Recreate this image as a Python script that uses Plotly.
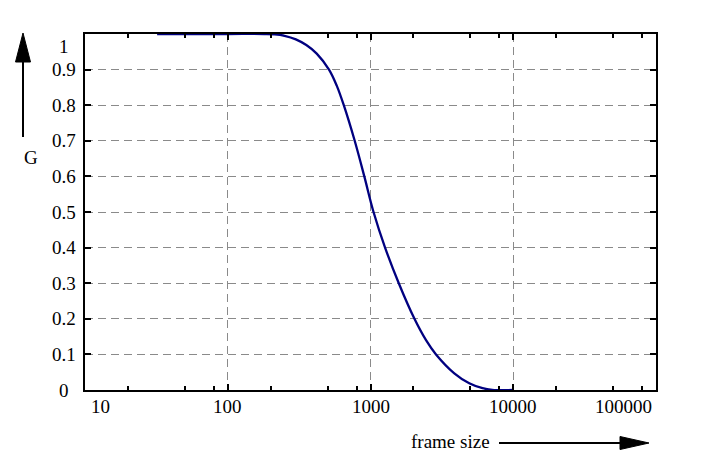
import numpy as np
import plotly.graph_objects as go

# --- data ---
frame_size = [32, 100, 180, 213, 250, 300, 355, 420, 512, 580, 650, 775, 905,
              1050, 1265, 1578, 2032, 2449, 2877, 3864, 4918, 6095, 7130, 10000]
g_values = [1.0, 1.0, 1.0, 0.999, 0.995, 0.985, 0.969, 0.945, 0.9, 0.855, 0.8,
            0.7, 0.6, 0.5, 0.4, 0.3, 0.2, 0.14, 0.1, 0.047, 0.019, 0.005, 0.0005, 0.0]

x_ticks = [10, 100, 1000, 10000, 100000]
x_ticklabels = ["10", "100", "1000", "10000", "100000"]
x_minor = [20, 50, 80, 200, 500, 800, 2000, 5000, 8000,
           20000, 50000, 80000]
y_ticks = [0, 0.1, 0.2, 0.3, 0.4, 0.5, 0.6, 0.7, 0.8, 0.9, 1]
y_ticklabels = ["0", "0.1", "0.2", "0.3", "0.4", "0.5", "0.6", "0.7", "0.8", "0.9", "1"]

# --- layout geometry (screen pixels; page body adds an 8px offset) ---
W, H = 705, 461
OFF = 8
L, R, T, B = 85, 656, 34, 390
FONT = dict(family="Liberation Serif", size=19, color="black")


def px(xp):
    return (xp - L) / (R - L)


def py(yp):
    return (B - yp) / (B - T)


fig = go.Figure()
fig.add_trace(go.Scatter(
    x=frame_size, y=g_values, mode="lines",
    line=dict(color="#000080", width=2.3, shape="spline", smoothing=1),
    hoverinfo="skip", showlegend=False,
))

annotations = []
for i, (v, t) in enumerate(zip(x_ticks, x_ticklabels)):
    anchor, shift = "center", 0
    if i == 0:
        anchor, shift = "left", 4
    elif i == len(x_ticks) - 1:
        anchor, shift = "right", -2
    annotations.append(dict(
        x=np.log10(v), y=0, xref="x", yref="paper", text=t, showarrow=False,
        xanchor=anchor, yanchor="middle", xshift=shift, yshift=-16, font=FONT,
    ))
for i, (v, t) in enumerate(zip(y_ticks, y_ticklabels)):
    annotations.append(dict(
        x=0, y=v, xref="paper", yref="y", text=t, showarrow=False,
        xanchor="center", yanchor="top" if i == len(y_ticks) - 1 else "middle",
        xshift=-21, font=FONT,
    ))

# axis names
annotations.append(dict(x=px(22), y=py(157), xref="paper", yref="paper", text="G",
                        showarrow=False, font=FONT))
annotations.append(dict(x=px(450), y=0, xref="paper", yref="paper",
                        text="frame size", showarrow=False, font=FONT,
                        yanchor="middle", yshift=-(441 - B)))

shapes = [
    # vertical arrow for G
    dict(type="line", xref="paper", yref="paper", x0=px(23), x1=px(23),
         y0=py(137), y1=py(55), line=dict(color="black", width=2)),
    dict(type="path", xref="paper", yref="paper",
         path=f"M {px(23)},{py(33)} L {px(15.5)},{py(62)} L {px(30.5)},{py(62)} Z",
         fillcolor="black", line=dict(color="black", width=1)),
    # horizontal arrow for frame size
    dict(type="line", xref="paper", yref="paper", x0=px(499), x1=px(625),
         y0=py(443), y1=py(443), line=dict(color="black", width=2)),
    dict(type="path", xref="paper", yref="paper",
         path=f"M {px(649)},{py(443)} L {px(620)},{py(436.5)} L {px(620)},{py(449.5)} Z",
         fillcolor="black", line=dict(color="black", width=1)),
]

axis_common = dict(
    showline=True, linecolor="black", linewidth=2, mirror="allticks",
    ticks="inside", ticklen=6, tickwidth=2, tickcolor="black",
    showgrid=True, gridcolor="#8a8a8a", gridwidth=1, griddash="8px,5px",
    showticklabels=False, zeroline=False,
)

FW, FH = W - OFF, H - OFF
fig.update_layout(
    width=FW, height=FH, autosize=False,
    margin=dict(l=L - OFF, r=FW - (R - OFF), t=T - OFF, b=FH - (B - OFF)),
    paper_bgcolor="white", plot_bgcolor="white",
    font=FONT,
    xaxis=dict(type="log", range=[1, 5], tickmode="array", tickvals=x_ticks,
               minor=dict(tickmode="array", tickvals=x_minor, ticks="inside",
                          ticklen=4, tickwidth=1.5, tickcolor="black", showgrid=False),
               **axis_common),
    yaxis=dict(range=[0, 1], tickmode="array", tickvals=y_ticks, **axis_common),
    annotations=annotations,
    shapes=shapes,
)

fig.write_html("out.html")
